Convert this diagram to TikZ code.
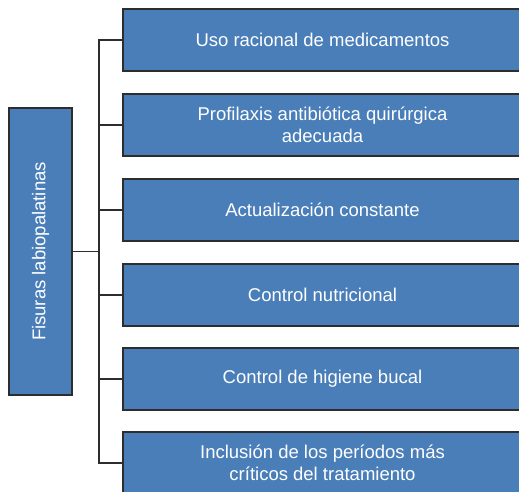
\documentclass[tikz,border=0pt]{standalone}
\usepackage{fontspec}
\setmainfont{Liberation Sans}
\definecolor{boxblue}{RGB}{74,126,185}
\definecolor{linegray}{RGB}{45,45,45}

\tikzset{
  item/.style={draw=linegray, line width=1.2pt, fill=boxblue, text=white,
    minimum width=399pt, minimum height=62pt, inner sep=0pt, align=center,
    font=\fontsize{18.5}{22}\selectfont},
  rootbox/.style={item, minimum width=287pt, minimum height=63pt, rotate=90},
  branch/.style={draw=linegray, line width=1.2pt}
}

\begin{document}
\begin{tikzpicture}[x=1pt,y=-1pt]
\useasboundingbox (0,0) rectangle (519,492);
\clip (0,0) rectangle (519,492);

\node[rootbox] (root) at (40.5,251.5) {Fisuras labiopalatinas};

\node[item] (b1) at (322.5,40) {Uso racional de medicamentos};
\node[item] (b2) at (322.5,125) {Profilaxis antibiótica quirúrgica\\adecuada};
\node[item] (b3) at (322.5,210) {Actualización constante};
\node[item] (b4) at (322.5,295) {Control nutricional};
\node[item] (b5) at (322.5,379) {Control de higiene bucal};
\node[item] (b6) at (322.5,463) {Inclusión de los períodos más\\críticos del tratamiento};

% trunk
\coordinate (top) at (99,40);
\coordinate (bot) at (99,463);
\coordinate (mid) at (99,251.5);

\draw[branch] (root.south) -- (mid);
\draw[branch] (b1.west) -- (top) -- (bot) -- (b6.west);
\foreach \b in {b2,b3,b4,b5}
  \draw[branch] (\b.west) -- (top |- \b.west);

\end{tikzpicture}
\end{document}
